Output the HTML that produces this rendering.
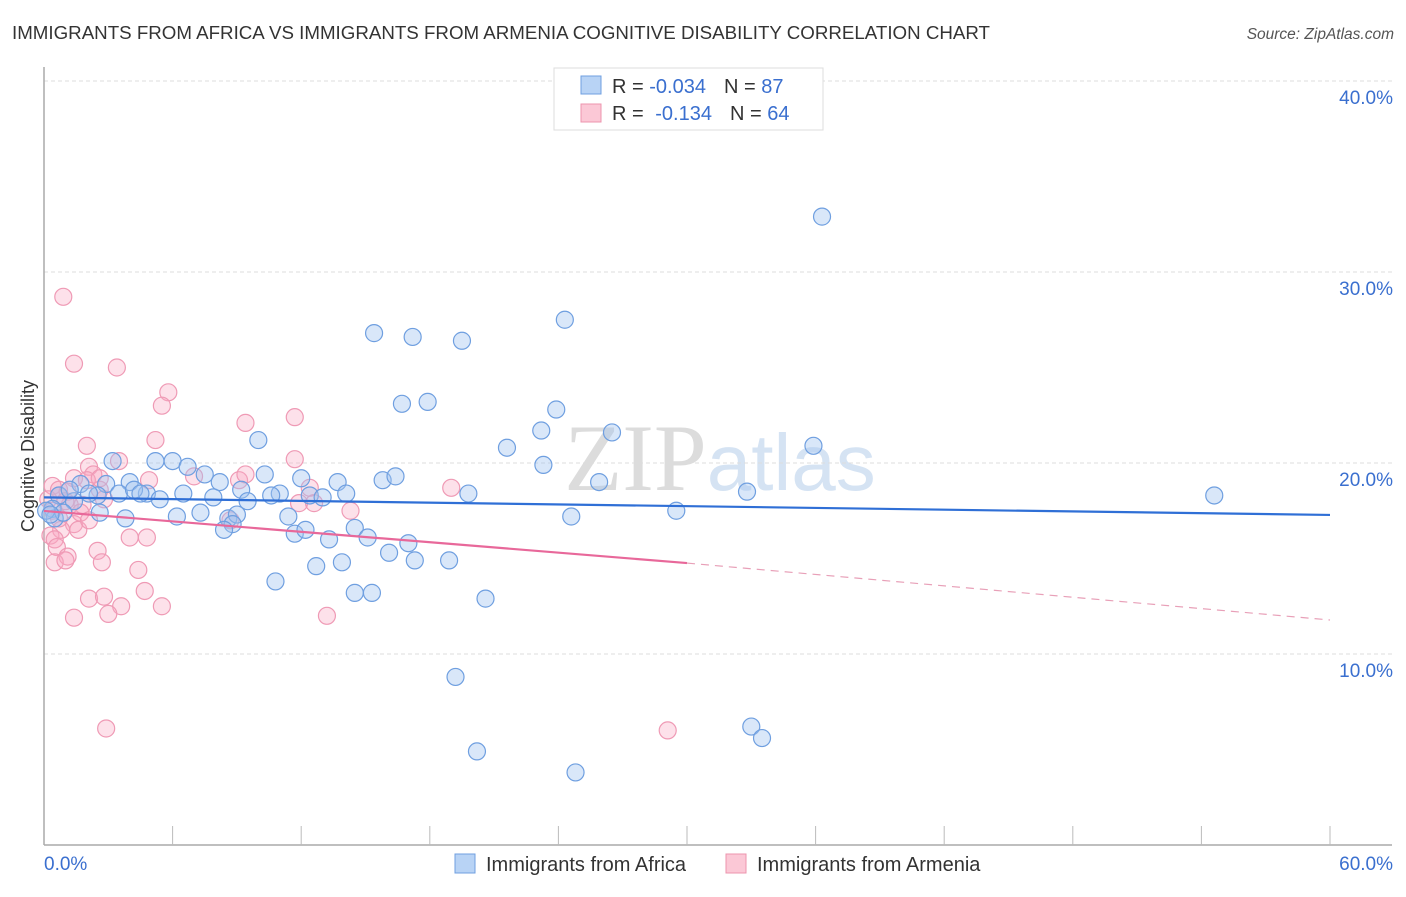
<!DOCTYPE html>
<html><head><meta charset="utf-8"><style>
body{margin:0;background:#fff;font-family:"Liberation Sans",sans-serif}
svg text{font-family:"Liberation Sans",sans-serif}
</style></head><body>
<svg id="chart" width="1406" height="892" xmlns="http://www.w3.org/2000/svg">
<text x="12" y="39" font-size="18" fill="#333" textLength="978" lengthAdjust="spacingAndGlyphs">IMMIGRANTS FROM AFRICA VS IMMIGRANTS FROM ARMENIA COGNITIVE DISABILITY CORRELATION CHART</text>
<text x="1394" y="39" font-size="15.5" fill="#555" text-anchor="end" font-style="italic">Source: ZipAtlas.com</text>
<text x="720" y="490" font-size="95" fill="#e4e4e4" text-anchor="middle" font-family="Liberation Serif"><tspan font-family="Liberation Serif" fill="#dcdcdc">ZIP</tspan><tspan fill="#d5e3f3" font-family="Liberation Sans" font-size="80">atlas</tspan></text>
<g id="grid"></g><g id="axes"></g><g id="pts"></g><g id="trend"></g>
<text transform="translate(34,456) rotate(-90)" font-size="18" fill="#333" text-anchor="middle">Cognitive Disability</text>
<g>
<rect x="554" y="68" width="269" height="62" fill="#fff" stroke="#ddd"/>
<rect x="581" y="76" width="20" height="18" fill="#b8d3f5" stroke="#6f9fe0"/>
<rect x="581" y="104" width="20" height="18" fill="#fbc8d6" stroke="#ec94ae"/>
<text x="612" y="93" font-size="20" fill="#333">R = <tspan fill="#3a6fcf">-0.034</tspan><tspan dx="18">N = </tspan><tspan fill="#3a6fcf">87</tspan></text>
<text x="612" y="120" font-size="20" fill="#333">R = <tspan dx="6" fill="#3a6fcf">-0.134</tspan><tspan dx="18">N = </tspan><tspan fill="#3a6fcf">64</tspan></text>
</g>
<g>
<rect x="455" y="854" width="20" height="19" fill="#b8d3f5" stroke="#6f9fe0"/>
<text x="486" y="871" font-size="20" fill="#333">Immigrants from Africa</text>
<rect x="726" y="854" width="20" height="19" fill="#fbc8d6" stroke="#ec94ae"/>
<text x="757" y="871" font-size="20" fill="#333">Immigrants from Armenia</text>
</g>
</svg>
<script>
const yTicks=[10,20,30,40];
const yTickLabels=["10.0%","20.0%","30.0%","40.0%"];
const africaX=[36.3,24.3,15.4,17.2,19.5,16.7,17.9,23.9,23.2,26.5,21.6,35.9,10.0,3.2,5.2,6.0,23.3,6.7,7.5,10.3,15.8,16.4,12.0,25.9,32.8,54.6,19.8,4.0,2.9,1.7,8.2,13.7,6.5,2.5,3.5,4.8,7.9,9.2,9.5,11.0,10.6,12.4,13.0,14.1,0.7,1.4,0.4,2.6,3.8,6.2,7.3,8.6,9.0,11.4,8.8,14.5,24.6,29.5,8.4,11.7,12.2,13.3,15.1,17.0,16.1,17.3,18.9,12.7,13.9,10.8,14.5,15.3,20.6,19.2,20.2,24.8,33.0,33.5,0.5,0.9,0.1,1.2,2.1,4.2,4.5,5.4,0.3];
const africaY=[32.9,27.5,26.8,26.6,26.4,23.1,23.2,22.8,21.7,21.6,20.8,20.9,21.2,20.1,20.1,20.1,19.9,19.8,19.4,19.4,19.1,19.3,19.2,19.0,18.5,18.3,18.4,19.0,18.9,18.9,19.0,19.0,18.4,18.3,18.4,18.4,18.2,18.6,18.0,18.4,18.3,18.3,18.2,18.4,18.3,18.0,17.6,17.4,17.1,17.2,17.4,17.1,17.3,17.2,16.8,16.6,17.2,17.5,16.5,16.3,16.5,16.0,16.1,15.8,15.3,14.9,14.9,14.6,14.8,13.8,13.2,13.2,12.9,8.8,4.9,3.8,6.2,5.6,17.1,17.4,17.5,18.6,18.4,18.6,18.4,18.1,17.3];
const armeniaX=[0.9,1.4,3.4,5.8,5.5,9.4,11.7,5.2,2.0,3.5,11.7,2.1,2.3,7.0,9.1,19.0,12.4,1.4,0.4,0.7,1.1,2.0,2.6,4.9,2.8,1.8,11.9,12.6,14.3,8.7,1.4,0.8,0.3,0.5,1.6,4.0,4.8,0.6,2.5,1.1,0.5,1.0,2.7,4.4,4.7,2.1,2.8,3.6,5.5,3.0,1.4,13.2,2.9,29.1,0.2,0.4,0.7,1.2,1.7,2.1,0.7,1.0,2.6,9.4];
const armeniaY=[28.7,25.2,25.0,23.7,23.0,22.1,22.4,21.2,20.9,20.1,20.2,19.8,19.4,19.3,19.1,18.7,18.7,19.2,18.8,18.6,18.5,19.1,18.6,19.1,18.1,17.8,17.9,17.9,17.5,17.0,16.8,16.5,16.2,16.0,16.5,16.1,16.1,15.6,15.4,15.1,14.8,14.9,14.8,14.4,13.3,12.9,13.0,12.5,12.5,12.1,11.9,12.0,6.1,6.0,18.1,17.5,18.3,17.8,17.4,17.0,17.1,18.0,19.2,19.4];
const africaTrend=[18.2,17.28];
const armeniaTrend=[17.49,14.76,11.78];
const NS="http://www.w3.org/2000/svg";
const X=v=>44+v*(1286/60), Y=v=>845-v*19.1;
function mk(p,t,a){const e=document.createElementNS(NS,t);for(const k in a)e.setAttribute(k,a[k]);p.appendChild(e);return e;}
const grid=document.getElementById('grid'),axes=document.getElementById('axes'),pts=document.getElementById('pts'),tr=document.getElementById('trend');
yTicks.forEach((t,i)=>{
 const l=mk(grid,'line',{x1:44,x2:1392,y1:Y(t),y2:Y(t),stroke:'#ddd','stroke-dasharray':'4,3'});
 
 
 const tx=mk(grid,'text',{x:1393,y:Y(t)+23,'font-size':19,fill:'#3a6fcf','text-anchor':'end'});
 tx.textContent=yTickLabels[i];
 
 
});
const ya=mk(axes,'line',{x1:44,x2:44,y1:67,y2:845,stroke:'#aaa','stroke-width':1.5});


const xa=mk(axes,'line',{x1:44,x2:1392,y1:845,y2:845,stroke:'#aaa','stroke-width':1.5});


for(let i=1;i<=10;i++){const tk=mk(axes,'line',{x1:X(i*6),x2:X(i*6),y1:826,y2:845,stroke:'#bbb'});
 
 }
[["0.0%",44,'start'],["60.0%",1393,'end']].forEach(d=>{const t=mk(axes,'text',{x:d[1],y:870,'font-size':19,fill:'#3a6fcf','text-anchor':d[2]});t.textContent=d[0];
 
 });
armeniaX.forEach((x,i)=>{const c=mk(pts,'circle',{cx:X(x),cy:Y(armeniaY[i]),r:8.5,fill:'rgba(248,170,195,0.35)',stroke:'#ef9ab5','stroke-width':1.2});
 
 });
africaX.forEach((x,i)=>{const c=mk(pts,'circle',{cx:X(x),cy:Y(africaY[i]),r:8.5,fill:'rgba(160,195,240,0.4)',stroke:'#6f9fe0','stroke-width':1.2});
 
 });
const bt=mk(tr,'line',{x1:X(0),y1:Y(africaTrend[0]),x2:X(60),y2:Y(africaTrend[1]),stroke:'#2f6fd6','stroke-width':2.2});


const pt=mk(tr,'line',{x1:X(0),y1:Y(armeniaTrend[0]),x2:X(30),y2:Y(armeniaTrend[1]),stroke:'#e8689a','stroke-width':2.2});


const pd=mk(tr,'line',{x1:X(30),y1:Y(armeniaTrend[1]),x2:X(60),y2:Y(armeniaTrend[2]),stroke:'#e8a0b8','stroke-width':1.2,'stroke-dasharray':'8,6'});


</script>
</body></html>
